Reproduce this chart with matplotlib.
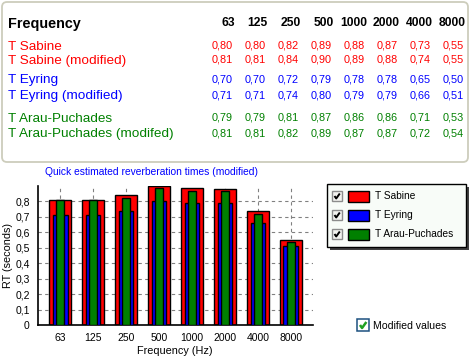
import matplotlib
matplotlib.use("Agg")
import matplotlib.pyplot as plt
from matplotlib.patches import FancyBboxPatch, Rectangle
from matplotlib.lines import Line2D

plt.rcParams["font.family"] = ["Liberation Sans", "DejaVu Sans"]

# values
freqs = ["63", "125", "250", "500", "1000", "2000", "4000", "8000"]
sabine = [0.80, 0.80, 0.82, 0.89, 0.88, 0.87, 0.73, 0.55]
sabine_mod = [0.81, 0.81, 0.84, 0.90, 0.89, 0.88, 0.74, 0.55]
eyring = [0.70, 0.70, 0.72, 0.79, 0.78, 0.78, 0.65, 0.50]
eyring_mod = [0.71, 0.71, 0.74, 0.80, 0.79, 0.79, 0.66, 0.51]
arau = [0.79, 0.79, 0.81, 0.87, 0.86, 0.86, 0.71, 0.53]
arau_mod = [0.81, 0.81, 0.82, 0.89, 0.87, 0.87, 0.72, 0.54]
yticks = [0, 0.1, 0.2, 0.3, 0.4, 0.5, 0.6, 0.7, 0.8]

RED, BLUE, GREEN = "#ff0000", "#0000ff", "#008000"
W, H = 471, 358


def fmt(v, nd=2):
    if v == 0:
        return "0"
    return f"{v:.{nd}f}".replace(".", ",")


fig = plt.figure(figsize=(W / 100, H / 100), dpi=100)
fig.patch.set_facecolor("white")

# background axes in pixel coordinates (y down)
bg = fig.add_axes([0, 0, 1, 1], zorder=0)
bg.set_xlim(0, W)
bg.set_ylim(H, 0)
bg.axis("off")

# table panel
bg.add_patch(FancyBboxPatch((2, 2), 466, 160, boxstyle="round,pad=0,rounding_size=5",
                            facecolor="white", edgecolor="#cdcdbc", linewidth=1.3))

bg.text(8, 24, "Frequency", fontsize=10.4, fontweight="bold", va="center", ha="left")
for i, f in enumerate(freqs):
    bg.text(235 + 33.0 * i, 23, f, fontsize=8.7, fontweight="bold", va="center", ha="right")

rows = [
    ("T Sabine", sabine, RED, 47),
    ("T Sabine (modified)", sabine_mod, RED, 61),
    ("T Eyring", eyring, BLUE, 80),
    ("T Eyring (modified)", eyring_mod, BLUE, 96),
    ("T Arau-Puchades", arau, GREEN, 119),
    ("T Arau-Puchades (modifed)", arau_mod, GREEN, 134),
]
for label, vals, col, y in rows:
    bg.text(8, y, label, fontsize=9.7, color=col, va="center", ha="left")
    for i, v in enumerate(vals):
        bg.text(233 + 33.0 * i, y - 1, fmt(v), fontsize=7.8, color=col, va="center", ha="right")

bg.text(45, 172, "Quick estimated reverberation times (modified)", fontsize=7.4,
        color=BLUE, va="center", ha="left")

# chart
ax = fig.add_axes([38 / W, 1 - 325 / H, 275 / W, 139 / H], zorder=1)
x = range(len(freqs))
ax.bar(x, sabine_mod, width=0.68, color=RED, edgecolor="black", linewidth=1, zorder=2)
ax.bar(x, eyring_mod, width=0.45, color=BLUE, edgecolor="black", linewidth=1, zorder=3)
ax.bar(x, arau_mod, width=0.23, color=GREEN, edgecolor="black", linewidth=1, zorder=4)

ax.set_xlim(-0.67, 7.67)
ax.set_ylim(0, 0.9)
ax.set_yticks(yticks)
ax.set_yticklabels([fmt(v, 1) for v in yticks])
ax.set_xticks(list(x))
ax.set_xticklabels(freqs)
ax.tick_params(length=0, labelsize=7.5)
ax.tick_params(axis="y", pad=6)
ax.tick_params(axis="x", pad=6)
ax.grid(True, color="#808080", linestyle=(0, (3, 3)), linewidth=0.8, zorder=1)
ax.set_axisbelow(True)
for s in ("top", "right"):
    ax.spines[s].set_visible(False)
for s in ("left", "bottom"):
    ax.spines[s].set_linewidth(1.2)

bg.text(8, 256, "RT (seconds)", fontsize=7.8, rotation=90, va="center", ha="center")
bg.text(175, 351, "Frequency (Hz)", fontsize=7.8, va="center", ha="center")


def check(x0, y0, s, color, lw=1.4):
    bg.add_line(Line2D([x0 + 0.25 * s, x0 + 0.42 * s, x0 + 0.78 * s],
                       [y0 + 0.5 * s, y0 + 0.75 * s, y0 + 0.25 * s],
                       color=color, linewidth=lw, solid_capstyle="butt"))


# legend with shadow
bg.add_patch(Rectangle((330, 187), 139, 63, facecolor="#202020", edgecolor="none", alpha=0.85))
bg.add_patch(Rectangle((327, 184), 139, 63, facecolor="#f8fcf8", edgecolor="black", linewidth=1))
legend_items = [("T Sabine", RED), ("T Eyring", BLUE), ("T Arau-Puchades", GREEN)]
for k, (name, col) in enumerate(legend_items):
    yc = 196 + 19 * k
    bg.add_patch(Rectangle((332, yc - 5), 10, 10, facecolor="#f4f4f0", edgecolor="#8c8c8c", linewidth=1))
    check(332, yc - 5, 10, "black")
    bg.add_patch(Rectangle((348, yc - 5.5), 21, 11, facecolor=col, edgecolor="black", linewidth=1))
    bg.text(375, yc, name, fontsize=7.3, va="center", ha="left")

# modified values checkbox
bg.add_patch(Rectangle((357, 319), 12, 12, facecolor="white", edgecolor="#1c5180", linewidth=1.1))
check(357, 319, 12, "#21a121", lw=1.8)
bg.text(373, 326, "Modified values", fontsize=7.6, va="center", ha="left")

fig.savefig("out.png", dpi=100)
